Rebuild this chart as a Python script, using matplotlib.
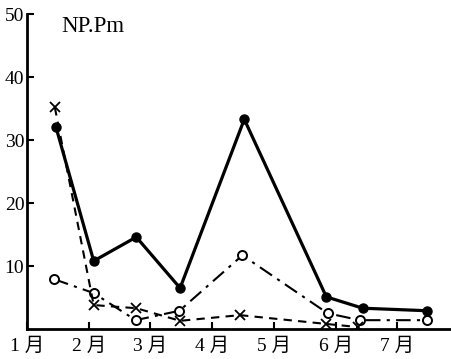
import matplotlib.pyplot as plt

plt.rcParams['font.family'] = ['Liberation Serif', 'Noto Sans CJK JP']

# month positions (1 = January)
solidMonths = [1.47, 2.08, 2.77, 3.48, 4.52, 5.85, 6.44, 7.48]
solidValues = [32.0, 10.8, 14.6, 6.5, 33.3, 5.1, 3.3, 2.9]

openMonths = [1.44, 2.08, 2.76, 3.47, 4.49, 5.87, 6.39, 7.48]
openValues = [7.9, 5.7, 1.4, 2.9, 11.7, 2.5, 1.4, 1.4]

crossMonths = [1.45, 2.08, 2.77, 3.48, 4.45, 5.85, 6.37]
crossValues = [35.2, 3.8, 3.3, 1.3, 2.2, 0.8, 0.3]

monthTicks = [1, 2, 3, 4, 5, 6, 7]
monthLabels = ["1 月", "2 月", "3 月", "4 月", "5 月", "6 月", "7 月"]
yTicks = [10, 20, 30, 40, 50]

fig = plt.figure(figsize=(4.51, 3.59), dpi=100)
ax = fig.add_axes([0.06, 0.0836, 0.94, 0.877])

ax.plot(solidMonths, solidValues, color="black", linewidth=2.3,
        marker="o", markersize=6.5, markerfacecolor="black")
ax.plot(openMonths, openValues, color="black", linewidth=1.5,
        linestyle=(0, (7, 3, 1.5, 3)), marker="o", markersize=6.5,
        markerfacecolor="white", markeredgewidth=1.4)
ax.plot(crossMonths, crossValues, color="black", linewidth=1.5,
        linestyle=(0, (4, 3)), marker="x", markersize=7,
        markeredgewidth=1.3)

ax.set_xlim(1.03, 7.87)
ax.set_ylim(0, 50)
ax.set_xticks(monthTicks)
ax.set_xticklabels(monthLabels)
ax.set_yticks(yTicks)

ax.spines["top"].set_visible(False)
ax.spines["right"].set_visible(False)
ax.spines["left"].set_linewidth(2)
ax.spines["bottom"].set_linewidth(2)
ax.tick_params(direction="in", length=5, width=1.5, labelsize=14, pad=2)
ax.tick_params(axis="x", pad=6)

ax.text(1.56, 48, "NP.Pm", fontsize=16.5, ha="left", va="center")

fig.savefig("out.png", dpi=100)
